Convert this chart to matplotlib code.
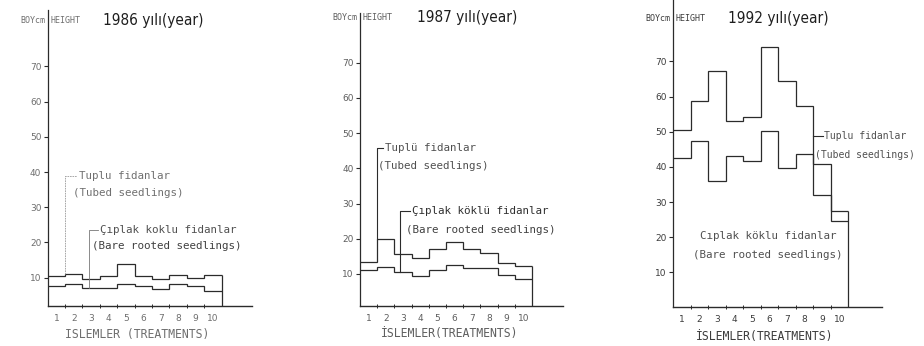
import numpy as np
import matplotlib
matplotlib.use("Agg")
import matplotlib.pyplot as plt

# Mean heights (cm) per treatment
treatments = list(range(1, 11))
tubed_1986 = [10.5, 11.1, 9.7, 10.5, 14.0, 10.5, 9.7, 10.9, 10.0, 10.8]
bare_1986 = [7.5, 8.3, 7.1, 7.1, 8.2, 7.5, 6.9, 8.3, 7.5, 6.3]
tubed_1987 = [13.5, 19.8, 15.8, 14.6, 17.2, 19.1, 17.2, 16.1, 13.2, 12.3]
bare_1987 = [11.1, 12.1, 10.6, 9.4, 11.1, 12.5, 11.8, 11.8, 9.7, 8.5]
tubed_1992 = [50.5, 58.7, 67.2, 53.1, 54.1, 74.1, 64.5, 57.4, 40.8, 27.3]
bare_1992 = [42.6, 47.5, 36.1, 43.2, 41.7, 50.2, 39.8, 43.7, 32.0, 24.7]
years = ["1986", "1987", "1992"]
y_ticks = [10, 20, 30, 40, 50, 60, 70]

line_col = "#2b2b2b"
mono = ["DejaVu Sans Mono"]

fig = plt.figure(figsize=(9.24, 3.46), dpi=100)

panels = [
    dict(rect=[0.0516, 0.1156, 0.2211, 0.8555], ylim=(1.96, 86.0), xmax=12.24,
         tubed=tubed_1986, bare=bare_1986, year=years[0], ty=0.966, tx=0.27, grey="#6e6e6e",
         xlabel="ISLEMLER (TREATMENTS)"),
    dict(rect=[0.3896, 0.117, 0.2197, 0.8454], ylim=(1.05, 84.1), xmax=12.3,
         tubed=tubed_1987, bare=bare_1987, year=years[1], ty=0.983, tx=0.28, grey="#5e5e5e",
         xlabel="İSLEMLER(TREATMENTS)"),
    dict(rect=[0.7284, 0.1136, 0.2262, 0.8864], ylim=(0.2, 87.5), xmax=12.44,
         tubed=tubed_1992, bare=bare_1992, year=years[2], ty=0.94, tx=0.263, grey="#3c3c3c",
         xlabel="İSLEMLER(TREATMENTS)"),
]

edges = np.arange(0.5, len(treatments) + 1, 1.0)
axes = []
for p in panels:
    ax = fig.add_axes(p["rect"])
    axes.append(ax)
    ax.stairs(p["tubed"], edges, baseline=None, color=line_col, lw=0.9)
    ax.stairs(p["bare"], edges, baseline=None, color=line_col, lw=0.9)
    ax.vlines(edges[-1], p["ylim"][0], max(p["tubed"][-1], p["bare"][-1]), color=line_col, lw=0.9)

    ax.set_xlim(0.5, p["xmax"])
    ax.set_ylim(*p["ylim"])
    for s in ["top", "right"]:
        ax.spines[s].set_visible(False)
    ax.spines["left"].set_color(line_col)
    ax.spines["bottom"].set_color(line_col)
    ax.spines["left"].set_linewidth(0.9)
    ax.spines["bottom"].set_linewidth(1.0)

    ax.set_yticks(y_ticks)
    ax.tick_params(axis="y", direction="out", length=3, width=0.8, colors=line_col,
                   labelsize=6.5, labelcolor=p["grey"], pad=1.5)
    ax.set_xticks(treatments)
    ax.set_xticklabels([str(t) for t in treatments])
    ax.tick_params(axis="x", length=0, labelsize=6.5, labelcolor=p["grey"], pad=6)
    ax.set_xticks(edges[1:-1], minor=True)
    ax.tick_params(axis="x", which="minor", direction="inout", length=3, width=0.7, colors=line_col)

    ax.set_xlabel(p["xlabel"], family=mono, fontsize=8.3, color=p["grey"])
    ax.xaxis.set_label_coords(0.44, -0.075)

    ax.text(p["tx"], p["ty"], p["year"] + " yılı(year)", transform=ax.transAxes,
            family="DejaVu Sans", fontstretch="condensed", fontsize=11,
            color="#1e1e1e", va="center", ha="left")
    ax.text(-0.012, p["ty"], "BOYcm", transform=ax.transAxes, family=mono, fontsize=6,
            color=p["grey"], va="center", ha="right")
    ax.text(0.012, p["ty"], "HEIGHT", transform=ax.transAxes, family=mono, fontsize=6,
            color=p["grey"], va="center", ha="left")

ann_kw = dict(family=mono, fontsize=7.8, va="center", ha="left")

# 1986 labels
ax = axes[0]
ax.plot([1.5, 1.5, 2.2], [tubed_1986[1], 39, 39], color="#9a9a9a", lw=0.6, ls=(0, (2, 1)))
ax.text(2.3, 39, "Tuplu fidanlar", color="#707070", **ann_kw)
ax.text(1.93, 34, "(Tubed seedlings)", color="#707070", **ann_kw)
ax.plot([2.87, 2.87, 3.4], [bare_1986[2], 23.5, 23.5], color="#777777", lw=0.6)
ax.text(3.5, 23.5, "Çıplak koklu fidanlar", color="#505050", **ann_kw)
ax.text(3.05, 19, "(Bare rooted seedlings)", color="#404040", **ann_kw)

# 1987 labels
ax = axes[1]
ax.plot([1.5, 1.5, 1.86], [tubed_1987[1], 45.9, 45.9], color=line_col, lw=0.8)
ax.text(1.96, 45.9, "Tuplü fidanlar", color="#505050", **ann_kw)
ax.text(1.57, 40.8, "(Tubed seedlings)", color="#505050", **ann_kw)
ax.plot([2.83, 2.83, 3.4], [bare_1987[2], 28, 28], color=line_col, lw=0.8)
ax.text(3.5, 28, "Çıplak köklü fidanlar", color="#303030", **ann_kw)
ax.text(3.18, 22.5, "(Bare rooted seedlings)", color="#404040", **ann_kw)

# 1992 labels
ax = axes[2]
small_kw = dict(ann_kw, fontsize=7.0)
ax.plot([8.5, 9.07], [48.8, 48.8], color=line_col, lw=0.8)
ax.text(9.15, 48.8, "Tuplu fidanlar", color="#505050", **small_kw)
ax.text(8.6, 43.4, "(Tubed seedlings)", color="#505050", **small_kw)
ax.text(2.04, 20.2, "Cıplak köklu fidanlar", color="#505050", **ann_kw)
ax.text(1.64, 14.8, "(Bare rooted seedlings)", color="#505050", **ann_kw)

fig.savefig("out.png", dpi=100, facecolor="white")
